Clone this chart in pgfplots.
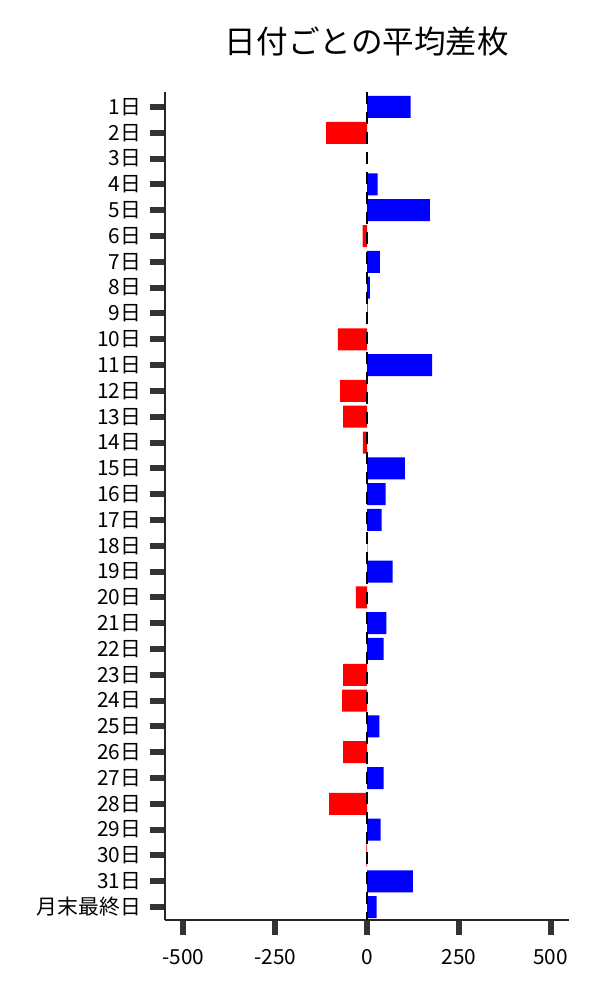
\documentclass[border=0pt]{standalone}
\usepackage{pgfplots}
\pgfplotsset{compat=1.18}
\usepackage{fontspec}
\setmainfont{Noto Sans CJK JP}

\begin{document}
\begin{tikzpicture}
\begin{axis}[
    name=ax,
    width=202pt, height=414pt,
    scale only axis,
    title={日付ごとの平均差枚},
    title style={font=\fontsize{15.8}{18}\selectfont, at={(axis description cs:0.5,1)}, anchor=center, yshift=19pt},
    axis lines*=left,
    axis line style={line width=0.6pt, black!85},
    xmin=-550, xmax=550,
    ymin=-0.58, ymax=31.5,
    y dir=reverse,
    xtick={-500,-250,0,250,500},
    ytick={0,...,31},
    yticklabels={1日,2日,3日,4日,5日,6日,7日,8日,9日,10日,11日,12日,13日,14日,15日,16日,17日,18日,19日,20日,21日,22日,23日,24日,25日,26日,27日,28日,29日,30日,31日,月末最終日},
    tick align=outside,
    major tick length=7.5pt,
    tick style={line width=3pt, black!80},
    ticklabel style={font=\fontsize{10.4}{12}\selectfont},
    /pgf/number format/assume math mode=true,
    /pgf/number format/set thousands separator={},
    xticklabel style={yshift=-3.5pt},
    yticklabel style={xshift=-1pt},
    bar width=11pt,
    bar shift=0pt,
]
\addplot[xbar, draw=none, fill=blue] coordinates {
    (119,0) (29,3) (171,4) (35,6) (8,7) (2,8) (177,10) (103,14) (51,15)
    (40,16) (1,17) (70,18) (53,20) (45,21) (34,24) (45,26) (37,28) (125,30) (26,31)
};
\addplot[xbar, draw=none, fill=red] coordinates {
    (-111,1) (-12,5) (-79,9) (-73,11) (-65,12) (-11,13) (-30,19) (-65,22)
    (-68,23) (-65,25) (-103,27) (-2,29)
};
\addplot[black, line width=1.1pt, dash pattern=on 6pt off 4pt, mark=none] coordinates {(0,-0.58) (0,31.5)};
\end{axis}
\pgfresetboundingbox
\path ([shift={(-82.5pt,-40pt)}]ax.south west) rectangle ([shift={(15.5pt,46pt)}]ax.north east);
\end{tikzpicture}
\end{document}
